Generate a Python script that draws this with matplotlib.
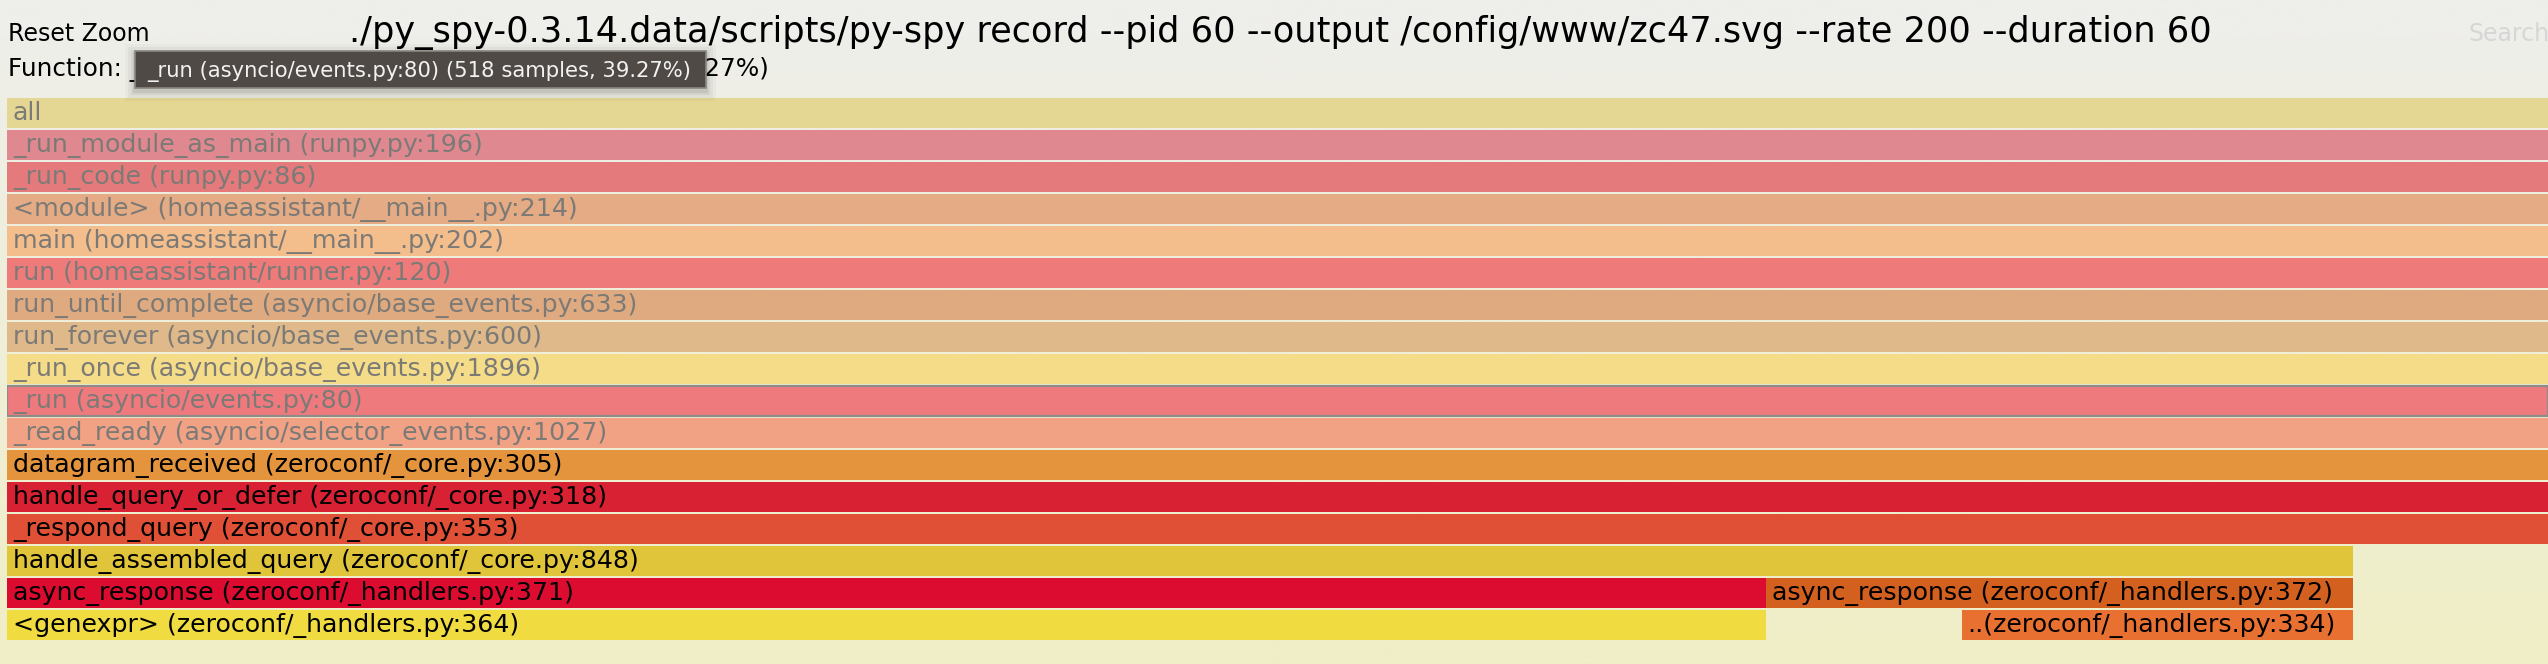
import matplotlib
matplotlib.use("Agg")
import matplotlib.pyplot as plt
import numpy as np
from matplotlib.patches import Rectangle

# ---------------- data ----------------
title_text = ("./py_spy-0.3.14.data/scripts/py-spy record --pid 60 --output "
              "/config/www/zc47.svg --rate 200 --duration 60")
reset_text = "Reset Zoom"
search_text = "Search"
function_text = "Function: _run (asyncio/events.py:80) (518 samples, 39.27%)"
tooltip_text = "_run (asyncio/events.py:80) (518 samples, 39.27%)"

zoom_total = 130  # samples spanned by the zoomed (full-width) frame

frame_labels = [
    "all",
    "_run_module_as_main (runpy.py:196)",
    "_run_code (runpy.py:86)",
    "<module> (homeassistant/__main__.py:214)",
    "main (homeassistant/__main__.py:202)",
    "run (homeassistant/runner.py:120)",
    "run_until_complete (asyncio/base_events.py:633)",
    "run_forever (asyncio/base_events.py:600)",
    "_run_once (asyncio/base_events.py:1896)",
    "_run (asyncio/events.py:80)",
    "_read_ready (asyncio/selector_events.py:1027)",
    "datagram_received (zeroconf/_core.py:305)",
    "handle_query_or_defer (zeroconf/_core.py:318)",
    "_respond_query (zeroconf/_core.py:353)",
    "handle_assembled_query (zeroconf/_core.py:848)",
    "async_response (zeroconf/_handlers.py:371)",
    "<genexpr> (zeroconf/_handlers.py:364)",
    "async_response (zeroconf/_handlers.py:372)",
    "..(zeroconf/_handlers.py:334)",
]
frame_depths = [0, 1, 2, 3, 4, 5, 6, 7, 8, 9, 10, 11, 12, 13, 14, 15, 16, 15, 16]
frame_starts = [0, 0, 0, 0, 0, 0, 0, 0, 0, 0, 0, 0, 0, 0, 0, 0, 0, 90, 100]
frame_widths = [130, 130, 130, 130, 130, 130, 130, 130, 130, 130, 130, 130, 130,
                130, 120, 90, 90, 30, 20]
frame_colors = [
    "#e3d793", "#e0888f", "#e47a7c", "#e4ab84", "#f4bd8c", "#ee7a7a",
    "#e0aa80", "#dfb98a", "#f5dc88", "#ef7a7e", "#f2a284", "#e3943c",
    "#d82234", "#e05036", "#e0c43a", "#dc0c30", "#f0dc40", "#d46020",
    "#e87030",
]
frame_faded = [True] * 11 + [False] * 8
frame_hover = [False] * 9 + [True] + [False] * 9

# ---------------- figure ----------------
W, H, DPI = 2548, 664, 100
fig = plt.figure(figsize=(W / DPI, H / DPI), dpi=DPI)

FONT = "DejaVu Sans"

# background gradient (full figure)
bg = fig.add_axes([0, 0, 1, 1])
bg.set_axis_off()
top = np.array([0xee, 0xee, 0xec]) / 255.0
bot = np.array([0xf0, 0xee, 0xc6]) / 255.0
t = np.linspace(0, 1, 256)[:, None]
grad = top[None, :] * (1 - t) + bot[None, :] * t
bg.imshow(grad[:, None, :], aspect="auto", extent=[0, 1, 0, 1], zorder=0)
bg.set_xlim(0, 1)
bg.set_ylim(0, 1)

# flame graph axes
row_pitch = 32.0
bar_h = 30.0
top_px = 98.0
n_rows = 17
left_px = 7.0
ax = fig.add_axes([left_px / W, (H - top_px - n_rows * row_pitch) / H,
                   (W - left_px) / W, n_rows * row_pitch / H])
ax.set_axis_off()
ax.patch.set_alpha(0)
ax.set_xlim(0, zoom_total)
ax.set_ylim(n_rows, 0)

edgecolors = ["#8f8c88" if h else "none" for h in frame_hover]
linewidths = [1.6 if h else 0 for h in frame_hover]
ax.barh(frame_depths, frame_widths, left=frame_starts, height=bar_h / row_pitch,
        align="edge", color=frame_colors, edgecolor=edgecolors,
        linewidth=linewidths, zorder=2)

for lab, d, s, fd in zip(frame_labels, frame_depths, frame_starts, frame_faded):
    ax.annotate(lab, xy=(s, d + 22 / row_pitch), xytext=(6, 0),
                textcoords="offset pixels", ha="left", va="baseline",
                fontsize=18.2, family=FONT,
                color="#7b7a76" if fd else "#000000", zorder=3)

# header overlay in pixel coordinates
ov = fig.add_axes([0, 0, 1, 1])
ov.set_axis_off()
ov.patch.set_alpha(0)
ov.set_xlim(0, W)
ov.set_ylim(H, 0)

ov.text(8, 41, reset_text, fontsize=17, family=FONT, color="#000000",
        ha="left", va="baseline")
ov.text(W / 2 + 6, 42, title_text, fontsize=25.3, family=FONT, color="#000000",
        ha="center", va="baseline")
ov.text(2469, 41, search_text, fontsize=17, family=FONT, color="#d6d6d6",
        ha="left", va="baseline")
ov.text(8, 76, function_text, fontsize=17.8, family=FONT, color="#000000",
        ha="left", va="baseline", zorder=2)

# tooltip with soft shadow
bx0, by0, bx1, by1 = 135, 51, 706, 88
for k, a in [(10, 0.025), (7, 0.035), (4, 0.05), (2, 0.07)]:
    ov.add_patch(Rectangle((bx0 - k, by0 - k + 3), bx1 - bx0 + 2 * k,
                           by1 - by0 + 2 * k, facecolor="#000000", alpha=a,
                           edgecolor="none", zorder=4))
ov.add_patch(Rectangle((bx0, by0), bx1 - bx0, by1 - by0, facecolor="#4f4a46",
                       edgecolor="#8a8682", linewidth=1.2, zorder=5))
ov.text(147, 77, tooltip_text, fontsize=15.2, family=FONT, color="#f2f2f2",
        ha="left", va="baseline", zorder=6)

fig.savefig("out.png", dpi=DPI)
